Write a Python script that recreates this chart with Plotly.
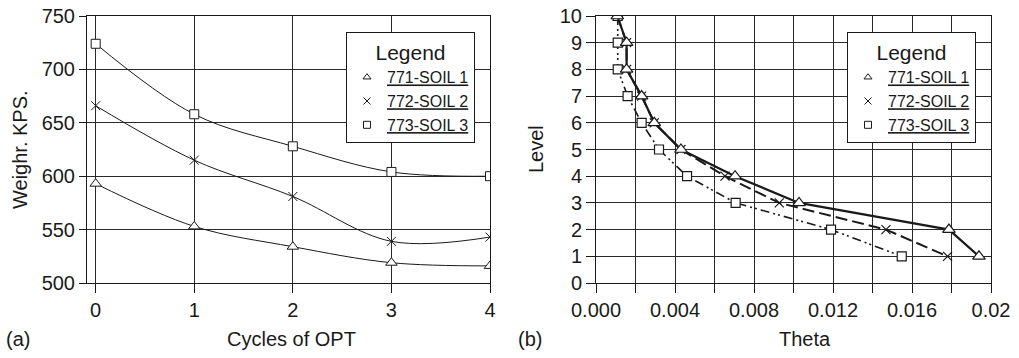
import plotly.graph_objects as go

# ---- (a) weight vs. optimisation cycles ----
cycles = [0, 1, 2, 3, 4]
weight_soil1 = [593, 553, 534, 519, 516]
weight_soil2 = [666, 615, 581, 539, 543]
weight_soil3 = [724, 658, 628, 604, 600]

# ---- (b) storey level vs. drift ratio ----
levels = [10, 9, 8, 7, 6, 5, 4, 3, 2, 1]
theta_soil1 = [0.00108, 0.00155, 0.00155, 0.00231, 0.00295, 0.0043, 0.00704, 0.01028, 0.01787, 0.01939]
theta_soil2 = [0.00108, 0.00155, 0.00155, 0.00231, 0.00295, 0.0043, 0.00653, 0.00928, 0.01468, 0.0178]
theta_soil3 = [0.0011, 0.0011, 0.0011, 0.0016, 0.00231, 0.00319, 0.00461, 0.00707, 0.0119, 0.01548]

series_names = ["771-SOIL 1", "772-SOIL 2", "773-SOIL 3"]
left_tick_vals = [500, 550, 600, 650, 700, 750]
theta_tick_vals = [0.0, 0.002, 0.004, 0.006, 0.008, 0.010, 0.012, 0.014, 0.016, 0.018, 0.020]
theta_tick_text = ["0.000", "", "0.004", "", "0.008", "", "0.012", "", "0.016", "", "0.02"]

FONT = "Liberation Sans, Arial, Helvetica, sans-serif"
INK = "#1a1a1a"
GRID = "#2a2a2a"

W, H = 1019, 358


def px_x(p):
    return p / W


def px_y(p):
    return 1 - p / H


symbols = {
    0: dict(symbol="triangle-up", size=10),
    1: dict(symbol="x-thin", size=9),
    2: dict(symbol="square", size=9),
}


def marker(i, lw=1):
    s = symbols[i]
    return dict(symbol=s["symbol"], size=s["size"], color="white",
                line=dict(color=INK, width=lw))


fig = go.Figure()

# Left panel: smooth curves; draw order keeps triangles on top
left_y = [weight_soil1, weight_soil2, weight_soil3]
for i in [1, 2, 0]:
    fig.add_trace(go.Scatter(
        x=cycles, y=left_y[i], mode="lines+markers",
        line=dict(color=INK, width=1, shape="spline", smoothing=1.0),
        marker=marker(i), showlegend=False, xaxis="x", yaxis="y",
        hoverinfo="skip"))

# Right panel: straight segments with distinct dash patterns
right_x = [theta_soil1, theta_soil2, theta_soil3]
dashes = ["solid", "12px,5px", "9px,4px,2px,3px,2px,4px"]
widths = [2.2, 2, 1.6]
for i in [1, 2, 0]:
    fig.add_trace(go.Scatter(
        x=right_x[i], y=levels, mode="lines+markers",
        line=dict(color=INK, width=widths[i], dash=dashes[i]),
        marker=marker(i, 1.2) if i != 0 else dict(marker(i, 1.2), size=11),
        showlegend=False, xaxis="x2", yaxis="y2",
        hoverinfo="skip"))

# Legend entries (symbol only) for each panel
for leg in ["legend", "legend2"]:
    for i, name in enumerate(series_names):
        fig.add_trace(go.Scatter(
            x=[None], y=[None], mode="markers", name="<u>" + name + "</u>",
            marker=dict(symbol=symbols[i]["symbol"], size=7, color="white",
                        line=dict(color=INK, width=1)),
            legend=leg, legendrank=i + 1,
            xaxis="x" if leg == "legend" else "x2",
            yaxis="y" if leg == "legend" else "y2"))

axis_common = dict(
    showline=True, linecolor=INK, linewidth=1, mirror=True,
    showgrid=True, gridcolor=GRID, gridwidth=1,
    ticks="outside", tickcolor=INK, ticklen=9, tickwidth=1,
    tickfont=dict(family=FONT, size=20, color=INK),
    zeroline=False, fixedrange=True, automargin=False,
)

y_dom = [px_y(283), px_y(16)]

legend_common = dict(
    bgcolor="white", bordercolor=INK, borderwidth=1,
    font=dict(family=FONT, size=16, color=INK),
    title=dict(text="Legend", side="top center",
               font=dict(family=FONT, size=21, color=INK)),
    xanchor="left", yanchor="top", itemsizing="trace",
    itemwidth=30, tracegroupgap=0,
)

fig.update_layout(
    template="none",
    width=W, height=H, autosize=False,
    margin=dict(l=0, r=0, t=0, b=0, autoexpand=False),
    paper_bgcolor="white", plot_bgcolor="white",
    font=dict(family=FONT, size=20, color=INK),
    xaxis=dict(axis_common, domain=[px_x(87), px_x(490)], range=[-0.088, 4],
               tickvals=cycles, anchor="y"),
    yaxis=dict(axis_common, domain=y_dom, range=[500, 750],
               tickvals=left_tick_vals, anchor="x", ticklen=7),
    xaxis2=dict(axis_common, domain=[px_x(596), px_x(991)], range=[0, 0.02],
                tickvals=theta_tick_vals, ticktext=theta_tick_text, anchor="y2"),
    yaxis2=dict(axis_common, domain=y_dom, range=[0, 10],
                tickvals=list(range(0, 11)), anchor="x2"),
    legend=dict(legend_common, x=px_x(346), y=px_y(32)),
    legend2=dict(legend_common, x=px_x(847), y=px_y(32)),
    showlegend=True,
)

text_font = dict(family=FONT, size=20, color=INK)
annotations = [
    dict(text="Cycles of OPT", x=px_x(291), y=px_y(339)),
    dict(text="Theta", x=px_x(805), y=px_y(339)),
    dict(text="(a)", x=px_x(18), y=px_y(339)),
    dict(text="(b)", x=px_x(530), y=px_y(339)),
    dict(text="Weighr. KPS.", x=px_x(20), y=px_y(150), textangle=-90),
    dict(text="Level", x=px_x(536), y=px_y(149), textangle=-90),
]
for a in annotations:
    fig.add_annotation(xref="paper", yref="paper", showarrow=False,
                       xanchor="center", yanchor="middle", font=text_font, **a)

fig.write_html("out.html")
